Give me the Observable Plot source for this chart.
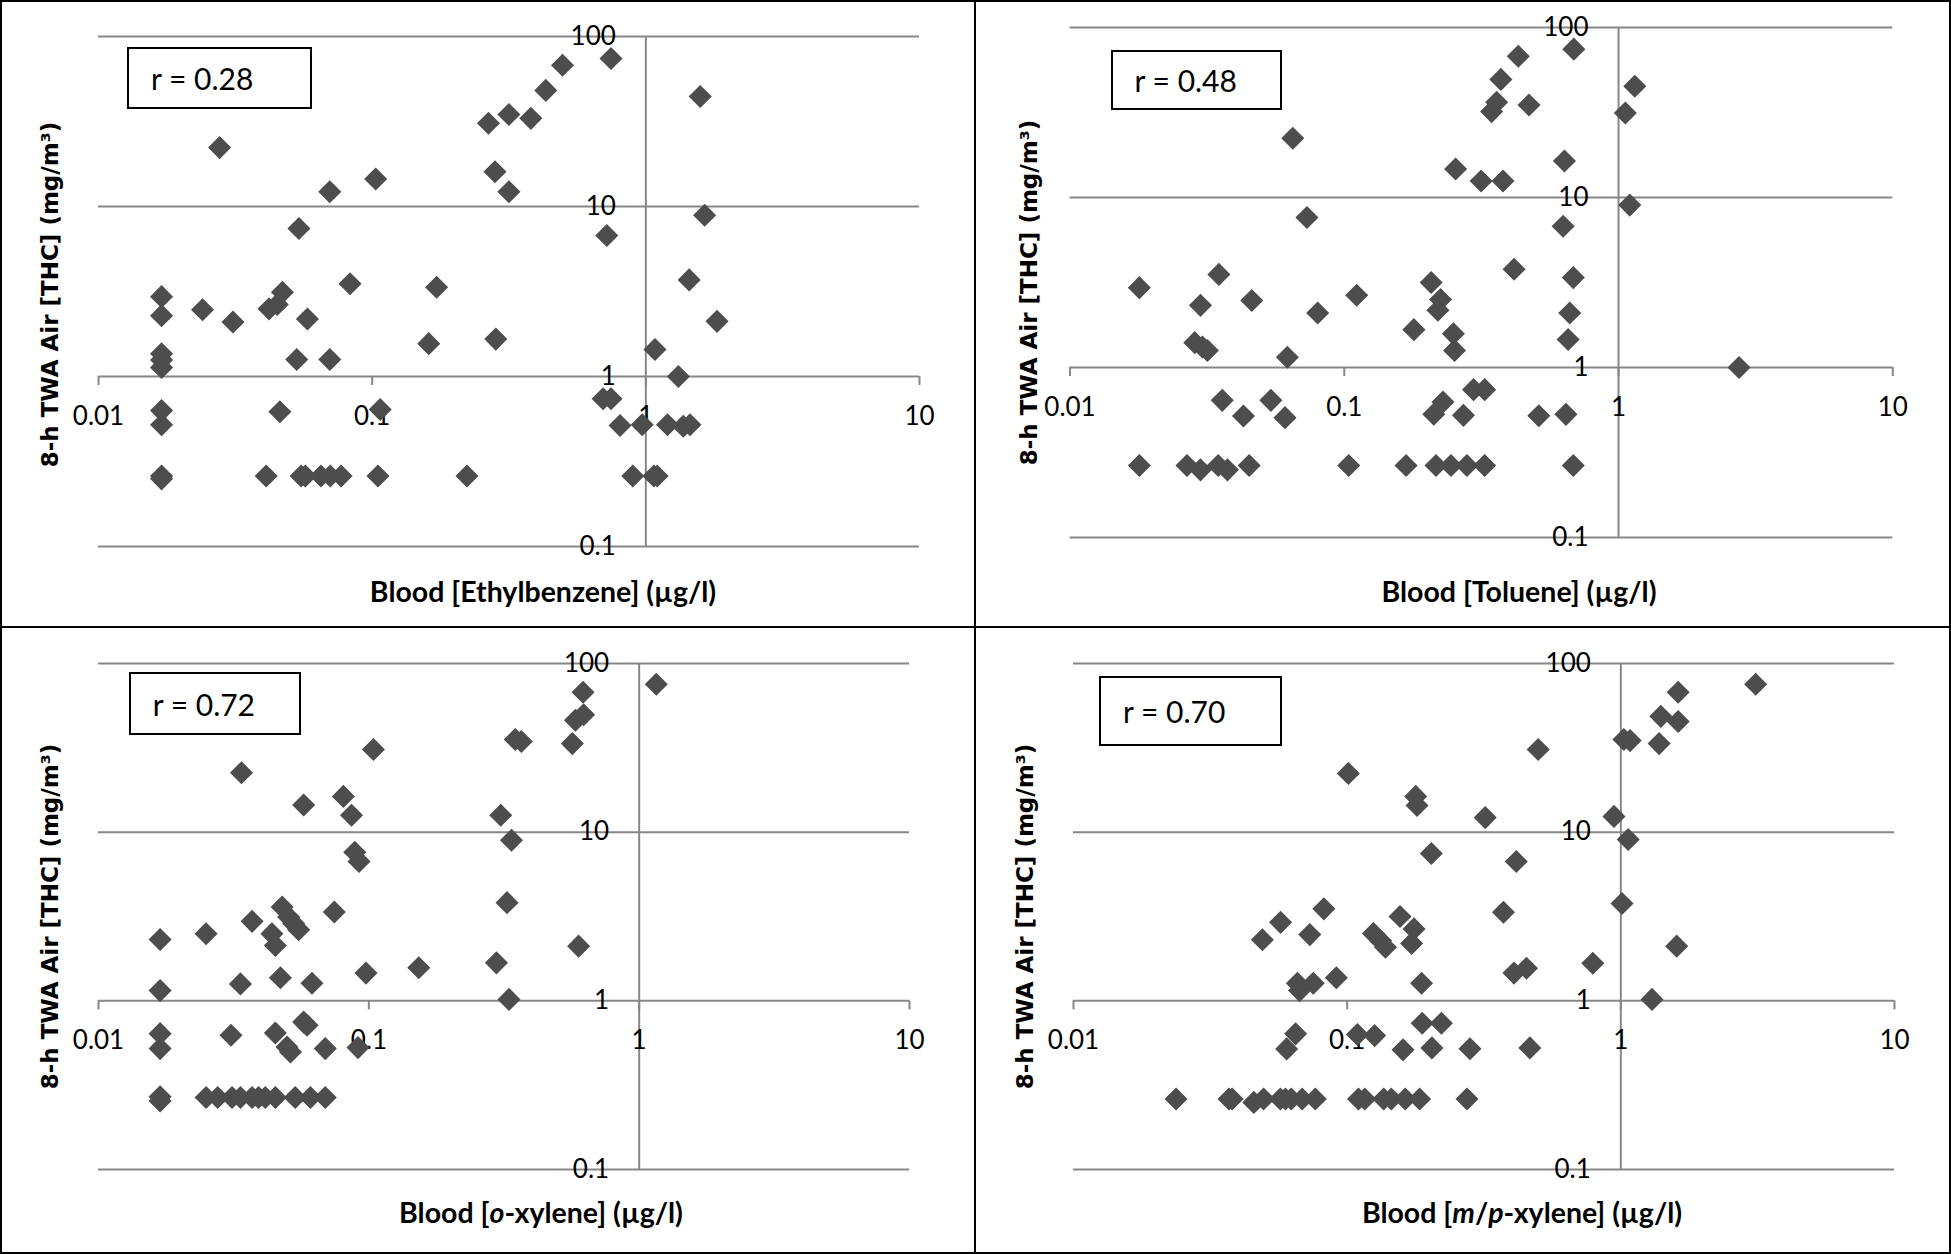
<!DOCTYPE html>
<html>
<head>
<meta charset="utf-8">
<script src="https://cdn.jsdelivr.net/npm/d3@7"></script>
<script src="https://cdn.jsdelivr.net/npm/@observablehq/plot@0.6"></script>
<style>
  html, body { margin: 0; padding: 0; background: #fff; }
  #wrap { position: relative; width: 1951px; height: 1254px; background: #fff; overflow: hidden; }
  .panel { position: absolute; }
  .panel svg { display: block; }
  .rbox { position: absolute; box-sizing: border-box; border: 2px solid #000; background: #fff;
          font-family: Lato, sans-serif; font-size: 30px; color: #000; display: flex; align-items: center; }
  .xtitle { position: absolute; transform: translate(-50%, -50%); white-space: nowrap;
            font-family: Lato, sans-serif; font-weight: bold; font-size: 28.5px; color: #000; }
  .line { position: absolute; background: #000; }
</style>
</head>
<body>
<div id="wrap"></div>
<script>
// ---------- data ----------
const xTicks = [0.01, 0.1, 1, 10];
const xTickLabels = ["0.01", "0.1", "1", "10"];
const yTicks = [0.1, 1, 10, 100];
const yTickLabels = ["0.1", "1", "10", "100"];
const axisCross = 1; // both axes cross at 1

const yTitle = "8-h TWA Air [THC] (mg/m³)";
const xTitles = [
  "Blood [Ethylbenzene] (µg/l)",
  "Blood [Toluene] (µg/l)",
  "Blood [<i>o</i>-xylene] (µg/l)",
  "Blood [<i>m</i>/<i>p</i>-xylene] (µg/l)"
];
const rLabels = ["r = 0.28", "r = 0.48", "r = 0.72", "r = 0.70"];

const ethylbenzeneX = [0.017,0.017,0.017,0.017,0.017,0.017,0.017,0.017,0.017,0.024,0.0277,0.031,0.041,0.042,0.045,0.046,0.047,0.053,0.054,0.055,0.057,0.058,0.065,0.070,0.070,0.0703,0.077,0.083,0.103,0.105,0.107,0.161,0.172,0.222,0.266,0.281,0.283,0.316,0.316,0.38,0.431,0.496,0.698,0.72,0.746,0.746,0.805,0.896,0.97,1.07,1.10,1.08,1.20,1.315,1.37,1.45,1.44,1.58,1.64,1.82];
const ethylbenzeneY = [2.95,2.28,1.36,1.25,1.13,0.63,0.52,0.26,0.25,2.47,22.2,2.09,0.26,2.50,2.65,0.62,3.13,1.26,7.43,0.26,0.26,2.18,0.26,1.26,12.2,0.26,0.26,3.51,14.5,0.26,0.64,1.56,3.35,0.26,30.9,16.0,1.66,34.8,12.2,33.0,48.2,67.7,0.74,6.75,0.74,74.2,0.515,0.26,0.52,0.26,0.26,1.44,0.52,1.0,0.51,0.52,3.70,44.4,8.89,2.11];

const tolueneX = [0.0179,0.0179,0.0267,0.0285,0.0299,0.0299,0.0304,0.0317,0.0347,0.0349,0.0359,0.0375,0.0429,0.045,0.046,0.054,0.0608,0.062,0.0649,0.0731,0.080,0.1038,0.111,0.168,0.1794,0.2074,0.212,0.216,0.2195,0.2244,0.229,0.245,0.250,0.2524,0.2547,0.272,0.280,0.296,0.3155,0.325,0.325,0.3445,0.3594,0.3724,0.379,0.416,0.431,0.4716,0.512,0.628,0.635,0.643,0.655,0.664,0.684,0.684,0.687,1.059,1.099,1.146,2.75];
const tolueneY = [2.95,0.265,0.265,1.40,2.32,0.25,1.32,1.26,0.265,3.53,0.641,0.25,0.519,0.265,2.48,0.641,0.507,1.15,22.3,7.63,2.09,0.265,2.66,0.265,1.67,3.16,0.531,0.265,2.17,2.51,0.627,0.265,1.58,1.26,14.7,0.523,0.265,0.741,12.5,0.741,0.265,32.0,36.3,49.5,12.5,3.78,67.7,35.0,0.52,6.77,16.4,0.53,1.46,2.09,3.38,0.265,74.6,31.4,9.02,45.1,1.0];

const oXyleneX = [0.0169,0.0169,0.0169,0.0169,0.0169,0.0169,0.025,0.025,0.0276,0.0309,0.0312,0.0335,0.0335,0.0338,0.037,0.037,0.0391,0.0414,0.0438,0.0451,0.0451,0.0451,0.0471,0.0478,0.0498,0.0505,0.0513,0.0527,0.0534,0.055,0.0574,0.0574,0.0591,0.0608,0.0616,0.069,0.069,0.0745,0.0805,0.0863,0.0887,0.0912,0.092,0.0976,0.104,0.153,0.2965,0.3076,0.3245,0.33,0.337,0.348,0.3665,0.566,0.581,0.597,0.62,0.623,1.157];
const oXyleneY = [2.31,1.15,0.639,0.521,0.27,0.255,2.50,0.267,0.267,0.625,0.267,1.26,0.267,22.5,2.96,0.267,0.267,0.267,2.50,2.13,0.645,0.267,1.37,3.60,0.532,3.14,0.497,2.87,0.267,2.64,14.5,0.748,0.716,0.267,1.27,0.267,0.521,3.36,16.3,12.6,7.6,0.528,6.7,1.46,30.9,1.57,1.68,12.6,3.82,1.02,8.95,35.4,34.5,33.5,46.1,2.11,67.5,49.7,75.3];

const mpXyleneX = [0.0237,0.037,0.038,0.0456,0.0495,0.057,0.0595,0.0625,0.0685,0.0765,0.110,0.116,0.136,0.145,0.163,0.184,0.274,0.049,0.0571,0.0601,0.0648,0.0658,0.067,0.073,0.0752,0.0822,0.0913,0.101,0.109,0.1247,0.126,0.1325,0.138,0.156,0.16,0.172,0.1755,0.178,0.18,0.187,0.188,0.203,0.204,0.221,0.281,0.3195,0.3725,0.407,0.415,0.452,0.465,0.499,0.79,0.944,1.01,1.026,1.064,1.081,1.30,1.38,1.40,1.60,1.62,1.62,3.11];
const mpXyleneY = [0.262,0.262,0.262,0.25,0.262,0.262,0.262,0.262,0.262,0.262,0.262,0.262,0.262,0.262,0.262,0.262,0.262,2.30,2.92,0.519,0.637,1.27,1.15,2.47,1.27,3.51,1.37,22.3,0.631,2.51,0.622,2.27,2.08,3.16,0.512,2.19,2.67,16.3,14.4,1.27,0.736,7.48,0.526,0.736,0.52,12.2,3.35,1.46,6.7,1.56,0.526,30.9,1.67,12.4,3.78,35.4,9.05,34.9,1.02,33.5,48.6,2.11,45.3,67.5,75.3];

const seriesX = [ethylbenzeneX, tolueneX, oXyleneX, mpXyleneX];
const seriesY = [ethylbenzeneY, tolueneY, oXyleneY, mpXyleneY];

// ---------- layout (pixels) ----------
const layout = [
  {left: 0,   top: 0,   w: 975, h: 627, ml: 98,   mr: 56,   mt: 36, mb: 81,
   xt: [543, 591], yt: [50, 294], box: [127, 47, 185, 62]},
  {left: 975, top: 0,   w: 976, h: 627, ml: 94.5, mr: 58.7, mt: 27, mb: 90,
   xt: [544, 591], yt: [54, 292], box: [135.6, 50, 171.6, 60]},
  {left: 0,   top: 627, w: 975, h: 627, ml: 98,   mr: 66,   mt: 36, mb: 85,
   xt: [541, 585], yt: [50, 289], box: [128.7, 45, 172, 63]},
  {left: 975, top: 627, w: 976, h: 627, ml: 98,   mr: 57,   mt: 36, mb: 85,
   xt: [547, 585], yt: [50, 289], box: [124, 49, 183, 70]}
];

const GRID = "#878787";
const wrap = document.getElementById("wrap");

layout.forEach((cfg, k) => {
  const data = seriesX[k].map((x, i) => ({x, y: seriesY[k][i]}));
  const frameMidY = (cfg.mt + cfg.h - cfg.mb) / 2;
  const svg = Plot.plot({
    width: cfg.w, height: cfg.h,
    marginLeft: cfg.ml, marginRight: cfg.mr, marginTop: cfg.mt, marginBottom: cfg.mb,
    x: {type: "log", domain: [xTicks[0], xTicks[xTicks.length - 1]], axis: null},
    y: {type: "log", domain: [yTicks[0], yTicks[yTicks.length - 1]], axis: null},
    style: {fontFamily: "Lato, sans-serif", fontSize: "26px", background: "transparent", color: "#000", overflow: "visible"},
    marks: [
      Plot.ruleY(yTicks, {y: d => d, x1: xTicks[0], x2: xTicks[xTicks.length - 1], stroke: GRID, strokeWidth: 2}),
      Plot.ruleX([axisCross], {x: d => d, y1: yTicks[0], y2: yTicks[yTicks.length - 1], stroke: GRID, strokeWidth: 2}),
      Plot.ruleX(xTicks, {x: d => d, y1: axisCross, y2: axisCross, insetBottom: -9, stroke: GRID, strokeWidth: 2}),
      Plot.text(xTicks, {x: d => d, y: axisCross, text: (d, i) => xTickLabels[i], dy: 40, fontSize: 26, fill: "#000"}),
      Plot.text(yTicks, {x: axisCross, y: d => d, text: (d, i) => yTickLabels[i], dx: -30, textAnchor: "end", fontSize: 26, fill: "#000"}),
      Plot.dot(data, {x: "x", y: "y", symbol: "diamond2", r: 10.4, fill: "#4d4d4d"}),
      Plot.text([yTitle], {frameAnchor: "left", textAnchor: "middle", rotate: -90,
        dx: cfg.yt[0] - cfg.ml, dy: cfg.yt[1] - frameMidY,
        fontFamily: "DejaVu Sans, sans-serif", fontWeight: "bold", fontSize: 23, fill: "#000"})
    ]
  });
  const div = document.createElement("div");
  div.className = "panel";
  div.style.left = cfg.left + "px";
  div.style.top = cfg.top + "px";
  div.style.width = cfg.w + "px";
  div.style.height = cfg.h + "px";
  div.appendChild(svg);

  const box = document.createElement("div");
  box.className = "rbox";
  box.style.left = cfg.box[0] + "px";
  box.style.top = cfg.box[1] + "px";
  box.style.width = cfg.box[2] + "px";
  box.style.height = cfg.box[3] + "px";
  box.style.paddingLeft = "22px";
  box.textContent = rLabels[k];
  div.appendChild(box);

  const xt = document.createElement("div");
  xt.className = "xtitle";
  xt.style.left = cfg.xt[0] + "px";
  xt.style.top = cfg.xt[1] + "px";
  xt.innerHTML = xTitles[k];
  div.appendChild(xt);

  wrap.appendChild(div);
});

// panel frame lines
[[0, 0, 1951, 2], [0, 1252, 1951, 2], [0, 0, 2, 1254], [1949, 0, 2, 1254], [974, 0, 2, 1254], [0, 626, 1951, 2]]
  .forEach(([l, t, w, h]) => {
    const d = document.createElement("div");
    d.className = "line";
    Object.assign(d.style, {left: l + "px", top: t + "px", width: w + "px", height: h + "px"});
    wrap.appendChild(d);
  });
</script>
</body>
</html>
